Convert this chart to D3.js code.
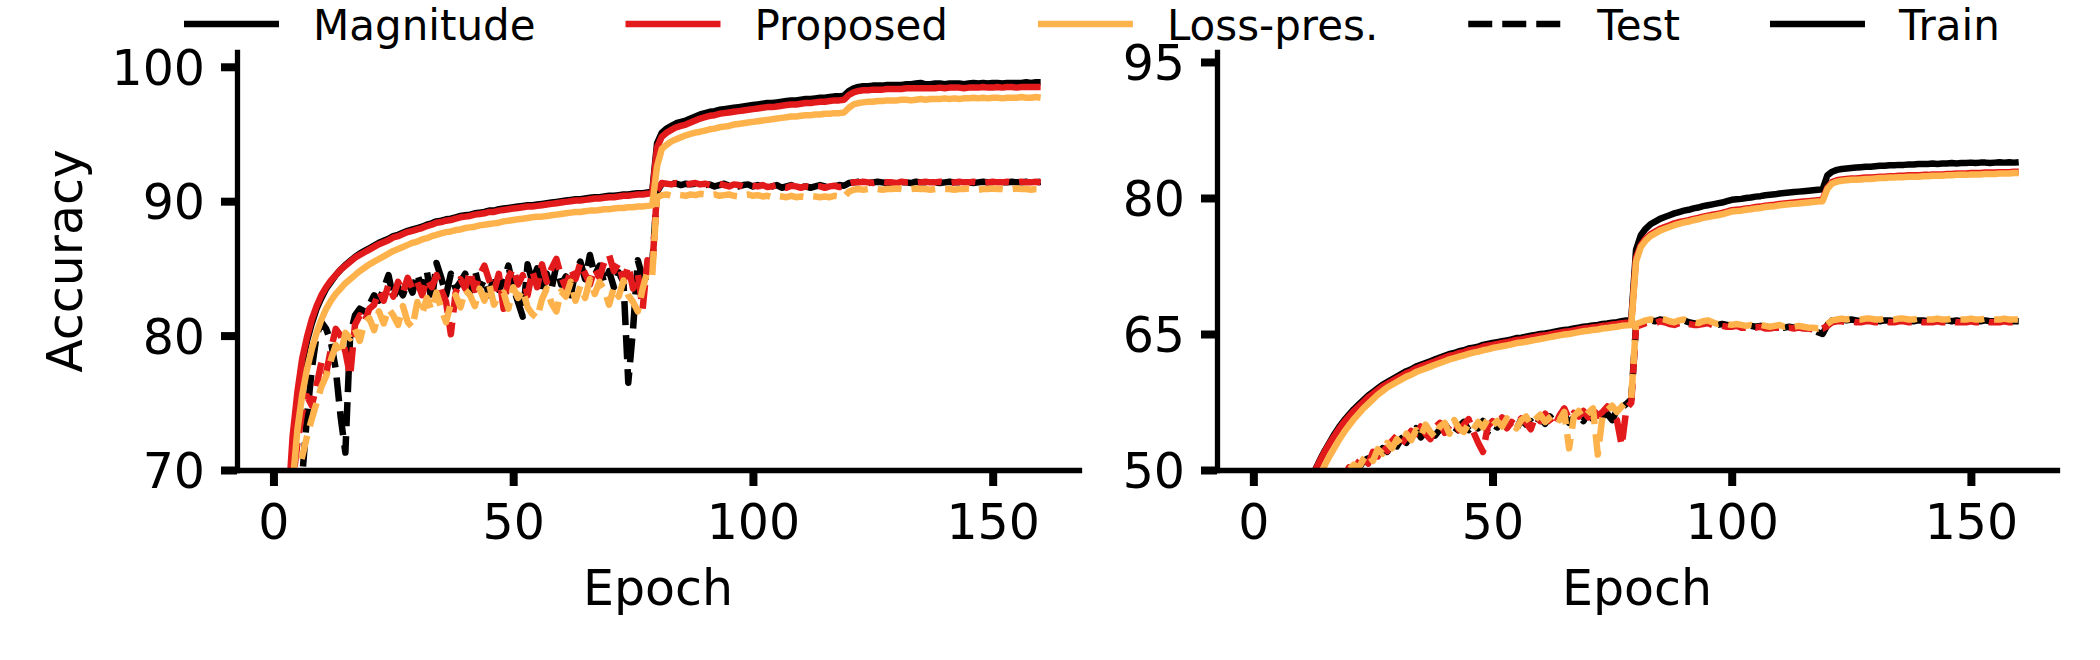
<!DOCTYPE html>
<html><head><meta charset="utf-8">
<script src="https://cdn.jsdelivr.net/npm/d3@7/dist/d3.min.js"></script>
<style>
html,body{margin:0;padding:0;background:#fff;}
svg{display:block;font-family:"DejaVu Sans",sans-serif;}
</style></head><body>
<svg id="chart" width="2100" height="660"></svg>
<script>
// ---------------- data ----------------
const epochs = d3.range(1, 161);
const xTicks = [0, 50, 100, 150];
const leftYTicks = [70, 80, 90, 100];
const rightYTicks = [50, 65, 80, 95];
const methods = ["Magnitude", "Proposed", "Loss-pres."];
const legendLabels = ["Magnitude", "Proposed", "Loss-pres.", "Test", "Train"];
const xLabel = "Epoch";
const yLabel = "Accuracy";

// Left panel
const leftTrainMagnitude = [
42.0,55.0,65.5,71.5,75.0,77.8,79.6,80.9,82.0,82.8,
83.5,84.0,84.5,84.9,85.25,85.55,85.85,86.1,86.3,86.5,
86.7,86.9,87.05,87.2,87.4,87.5,87.65,87.8,87.9,88.0,
88.1,88.25,88.35,88.5,88.55,88.65,88.7,88.8,88.9,88.95,
89.0,89.1,89.15,89.2,89.3,89.3,89.4,89.45,89.5,89.55,
89.6,89.65,89.7,89.7,89.75,89.8,89.85,89.9,89.95,90.0,
90.05,90.1,90.15,90.15,90.2,90.25,90.3,90.3,90.35,90.4,
90.4,90.45,90.5,90.5,90.55,90.6,90.6,90.65,90.7,94.3,
95.1,95.4,95.6,95.8,95.9,96.0,96.15,96.3,96.45,96.55,
96.65,96.7,96.8,96.85,96.9,96.95,97.0,97.05,97.1,97.15,
97.2,97.25,97.3,97.3,97.35,97.4,97.45,97.5,97.5,97.55,
97.6,97.6,97.65,97.7,97.7,97.75,97.8,97.8,97.85,98.2,
98.4,98.5,98.55,98.55,98.6,98.6,98.6,98.65,98.65,98.65,
98.65,98.7,98.7,98.75,98.8,98.7,98.7,98.75,98.75,98.7,
98.75,98.75,98.75,98.7,98.75,98.8,98.75,98.8,98.75,98.8,
98.8,98.75,98.8,98.8,98.8,98.8,98.85,98.8,98.85,98.85];
const leftTrainProposed = [
45.0,58.0,67.0,72.5,75.8,78.3,79.9,81.2,82.2,83.0,
83.6,84.1,84.5,84.9,85.2,85.5,85.8,86.0,86.2,86.4,
86.6,86.8,86.95,87.1,87.3,87.4,87.55,87.7,87.8,87.9,
88.0,88.15,88.25,88.4,88.45,88.55,88.6,88.7,88.8,88.85,
88.9,89.0,89.05,89.1,89.2,89.2,89.3,89.35,89.4,89.45,
89.5,89.55,89.6,89.6,89.65,89.7,89.75,89.8,89.85,89.9,
89.95,90.0,90.05,90.05,90.1,90.15,90.2,90.2,90.25,90.3,
90.3,90.35,90.4,90.4,90.45,90.5,90.5,90.55,90.6,94.0,
94.8,95.1,95.3,95.5,95.6,95.7,95.85,96.0,96.15,96.25,
96.35,96.4,96.5,96.55,96.6,96.65,96.7,96.75,96.8,96.85,
96.9,96.95,97.0,97.0,97.05,97.1,97.15,97.2,97.2,97.25,
97.3,97.3,97.35,97.4,97.4,97.45,97.5,97.5,97.55,97.9,
98.1,98.2,98.25,98.25,98.3,98.3,98.3,98.35,98.35,98.35,
98.35,98.4,98.4,98.4,98.4,98.4,98.4,98.4,98.45,98.4,
98.45,98.45,98.45,98.4,98.45,98.45,98.45,98.5,98.45,98.45,
98.5,98.45,98.5,98.5,98.45,98.5,98.5,98.5,98.5,98.5];
const leftTrainLossPres = [
40.0,54.0,63.0,69.0,73.0,75.6,77.5,79.0,80.2,81.2,
82.0,82.6,83.1,83.5,83.9,84.2,84.5,84.8,85.05,85.3,
85.5,85.7,85.9,86.1,86.3,86.45,86.6,86.75,86.9,87.0,
87.15,87.25,87.4,87.5,87.6,87.7,87.75,87.85,87.9,88.0,
88.05,88.1,88.2,88.25,88.3,88.35,88.4,88.5,88.55,88.6,
88.65,88.7,88.75,88.8,88.85,88.85,88.9,88.95,89.0,89.05,
89.1,89.15,89.2,89.2,89.25,89.3,89.3,89.35,89.4,89.4,
89.45,89.5,89.5,89.55,89.55,89.6,89.6,89.65,89.7,92.6,
93.9,94.2,94.45,94.6,94.75,94.9,95.0,95.1,95.17,95.25,
95.35,95.4,95.5,95.55,95.6,95.7,95.75,95.8,95.85,95.9,
95.95,96.0,96.05,96.1,96.15,96.2,96.25,96.3,96.3,96.35,
96.4,96.4,96.45,96.45,96.5,96.5,96.55,96.55,96.6,96.95,
97.2,97.3,97.35,97.4,97.4,97.45,97.45,97.5,97.5,97.5,
97.55,97.55,97.5,97.55,97.6,97.55,97.6,97.6,97.6,97.65,
97.6,97.65,97.6,97.65,97.65,97.7,97.65,97.7,97.65,97.7,
97.7,97.65,97.7,97.7,97.7,97.75,97.7,97.7,97.75,97.7];
const leftTestMagnitude = [
40.0,52.0,60.0,65.0,68.0,69.5,74.0,77.5,80.0,81.0,
80.5,79.5,77.5,74.0,71.3,80.0,81.5,82.0,81.8,82.3,
83.0,82.6,83.5,84.5,82.8,83.6,83.0,84.0,83.2,84.6,
83.4,84.8,82.5,85.4,84.3,83.0,84.6,83.5,84.0,84.6,
83.2,84.9,83.5,84.2,83.0,84.5,83.4,84.1,85.2,83.6,
82.5,81.4,85.3,84.0,85.0,83.2,84.6,83.5,85.2,83.8,
84.4,83.0,84.8,85.5,84.2,86.0,84.5,85.2,83.9,84.8,
83.6,84.7,84.0,76.5,80.5,85.6,84.3,84.0,85.3,90.7,
91.3,91.2,91.35,91.3,91.2,91.3,91.25,91.3,91.3,91.2,
91.25,91.1,91.2,91.3,91.15,91.2,91.1,91.2,91.25,91.1,
91.2,91.1,91.0,91.1,91.2,91.0,91.1,91.2,91.0,91.05,
91.1,91.0,91.1,91.2,91.1,91.0,91.1,91.2,91.15,91.35,
91.4,91.45,91.4,91.35,91.4,91.45,91.4,91.35,91.4,91.45,
91.4,91.4,91.35,91.45,91.4,91.4,91.45,91.4,91.35,91.4,
91.45,91.4,91.4,91.45,91.4,91.35,91.4,91.45,91.4,91.4,
91.45,91.4,91.4,91.45,91.4,91.4,91.45,91.4,91.4,91.45];
const leftTestProposed = [
45.0,57.0,64.0,69.0,72.0,74.3,75.5,74.8,76.3,78.0,
77.2,79.0,80.5,80.0,78.8,77.0,80.8,81.5,81.0,82.0,
82.3,83.3,82.6,83.8,82.9,84.0,83.2,84.3,83.5,84.0,
83.0,84.2,83.6,84.5,83.4,82.5,80.1,83.2,84.2,83.5,
84.8,83.4,84.5,85.2,84.1,83.3,84.6,82.0,84.3,85.0,
83.8,84.5,83.0,84.8,83.6,85.3,84.0,85.0,85.7,84.4,
83.5,85.0,84.2,85.4,84.6,83.8,85.0,84.3,85.5,86.0,
84.8,85.4,84.0,85.2,83.5,84.6,82.0,85.6,85.0,90.8,
91.35,91.3,91.25,91.35,91.3,91.2,91.3,91.35,91.25,91.3,
91.2,91.25,91.3,91.2,91.1,91.25,91.2,91.1,91.2,91.15,
91.1,91.2,91.05,91.1,91.2,91.05,91.0,91.15,91.1,91.0,
91.1,91.05,91.15,91.1,91.0,91.1,91.15,91.05,91.1,91.3,
91.4,91.4,91.45,91.4,91.35,91.4,91.45,91.4,91.4,91.35,
91.45,91.4,91.4,91.35,91.4,91.45,91.4,91.4,91.45,91.4,
91.35,91.4,91.45,91.4,91.4,91.45,91.4,91.35,91.4,91.45,
91.4,91.4,91.45,91.4,91.4,91.45,91.4,91.4,91.45,91.4];
const leftTestLossPres = [
38.0,50.0,59.0,65.0,69.5,71.0,72.5,73.8,75.0,76.2,
77.0,78.2,79.3,78.6,80.2,79.8,80.5,79.6,81.0,81.3,
80.4,81.8,80.9,82.0,81.5,80.8,82.2,81.0,80.6,82.5,
81.6,82.8,81.9,83.2,82.0,81.0,82.4,83.0,82.1,83.4,
83.0,82.2,83.5,82.6,83.8,82.3,83.0,83.2,82.0,83.6,
82.8,83.4,82.1,81.6,81.3,82.7,83.5,82.4,81.8,83.3,
82.9,84.0,82.6,83.7,82.8,84.2,83.1,84.0,83.4,82.3,
83.6,82.9,84.1,83.0,82.5,81.8,83.5,84.8,84.5,90.3,
90.45,90.5,90.4,90.5,90.45,90.4,90.5,90.45,90.55,90.5,
90.45,90.5,90.4,90.45,90.5,90.4,90.35,90.45,90.5,90.4,
90.45,90.35,90.4,90.3,90.4,90.35,90.3,90.4,90.3,90.35,
90.3,90.4,90.35,90.3,90.35,90.3,90.4,90.35,90.3,90.7,
90.85,90.9,90.85,90.9,90.95,90.9,90.85,90.9,90.9,90.95,
90.9,90.85,90.9,90.95,90.9,90.9,90.85,90.9,90.95,90.9,
90.9,90.85,90.9,90.9,90.95,90.9,90.85,90.9,90.9,90.95,
90.9,90.9,90.85,90.9,90.95,90.9,90.9,90.85,90.9,90.9];

// Right panel
const rightTrainMagnitude = [
20.0,25.0,29.0,32.6,35.6,38.1,40.4,42.4,44.3,46.0,
47.5,48.9,50.1,51.2,52.2,53.1,54.0,54.8,55.5,56.1,
56.7,57.2,57.7,58.2,58.6,59.0,59.4,59.7,60.0,60.3,
60.6,60.9,61.1,61.4,61.6,61.8,62.0,62.2,62.4,62.6,
62.8,62.9,63.1,63.2,63.4,63.5,63.6,63.8,63.9,64.0,
64.1,64.2,64.3,64.4,64.55,64.6,64.7,64.8,64.9,65.0,
65.05,65.15,65.25,65.35,65.45,65.5,65.6,65.7,65.8,65.85,
65.95,66.0,66.1,66.15,66.25,66.3,66.4,66.5,66.55,74.3,
75.9,76.6,77.1,77.4,77.7,77.9,78.1,78.3,78.45,78.6,
78.7,78.85,78.95,79.1,79.2,79.3,79.4,79.5,79.65,79.8,
79.85,79.9,80.0,80.05,80.15,80.2,80.3,80.35,80.4,80.5,
80.55,80.6,80.65,80.7,80.75,80.8,80.85,80.9,80.95,82.5,
82.9,83.1,83.2,83.25,83.3,83.35,83.4,83.45,83.45,83.5,
83.55,83.55,83.6,83.6,83.65,83.65,83.7,83.7,83.75,83.75,
83.75,83.8,83.75,83.8,83.8,83.85,83.8,83.85,83.85,83.9,
83.85,83.9,83.9,83.85,83.9,83.95,83.9,83.95,83.9,83.95];
const rightTrainProposed = [
20.0,25.0,29.0,32.5,35.5,38.0,40.3,42.3,44.2,45.9,
47.4,48.8,50.0,51.1,52.1,53.0,53.8,54.6,55.3,55.9,
56.5,57.0,57.5,58.0,58.4,58.8,59.2,59.5,59.8,60.1,
60.4,60.7,60.9,61.2,61.4,61.6,61.8,62.0,62.2,62.4,
62.6,62.7,62.9,63.0,63.2,63.3,63.4,63.6,63.7,63.8,
63.9,64.0,64.1,64.2,64.35,64.4,64.5,64.6,64.7,64.8,
64.85,64.95,65.05,65.15,65.25,65.3,65.4,65.5,65.6,65.65,
65.75,65.8,65.9,65.95,66.05,66.1,66.2,66.25,66.3,73.4,
74.8,75.5,76.0,76.3,76.6,76.8,77.0,77.2,77.35,77.45,
77.55,77.7,77.8,77.95,78.05,78.15,78.25,78.35,78.5,78.65,
78.7,78.75,78.85,78.9,79.0,79.05,79.15,79.2,79.25,79.35,
79.4,79.45,79.5,79.55,79.6,79.65,79.7,79.75,79.8,81.15,
81.75,81.95,82.05,82.1,82.15,82.15,82.2,82.25,82.25,82.3,
82.35,82.35,82.4,82.4,82.45,82.45,82.5,82.5,82.5,82.55,
82.55,82.6,82.6,82.6,82.65,82.65,82.7,82.7,82.7,82.75,
82.75,82.75,82.8,82.8,82.8,82.85,82.85,82.85,82.9,82.9];
const rightTrainLossPres = [
18.0,23.0,27.0,30.5,33.5,36.0,38.3,40.4,42.3,44.0,
45.6,47.0,48.3,49.5,50.6,51.6,52.5,53.4,54.2,54.9,
55.6,56.2,56.8,57.3,57.8,58.3,58.7,59.1,59.4,59.7,
60.0,60.3,60.5,60.8,61.0,61.2,61.4,61.6,61.8,62.0,
62.2,62.35,62.5,62.65,62.8,62.95,63.05,63.2,63.3,63.45,
63.55,63.65,63.75,63.85,64.0,64.05,64.15,64.25,64.35,64.45,
64.55,64.65,64.75,64.85,64.95,65.0,65.1,65.2,65.3,65.35,
65.45,65.5,65.6,65.65,65.75,65.8,65.9,65.95,66.0,73.0,
74.6,75.3,75.8,76.1,76.4,76.6,76.8,77.0,77.15,77.3,
77.4,77.55,77.65,77.8,77.9,78.0,78.1,78.2,78.35,78.5,
78.55,78.6,78.7,78.75,78.85,78.9,79.0,79.05,79.1,79.2,
79.25,79.3,79.35,79.4,79.45,79.5,79.55,79.6,79.65,81.0,
81.6,81.8,81.9,81.95,82.0,82.0,82.05,82.1,82.1,82.15,
82.2,82.2,82.25,82.25,82.3,82.3,82.35,82.35,82.35,82.4,
82.4,82.45,82.45,82.45,82.5,82.5,82.55,82.55,82.55,82.6,
82.6,82.6,82.65,82.65,82.65,82.7,82.7,82.7,82.75,82.75];
const rightTestMagnitude = [
15.0,20.0,24.0,27.0,30.0,32.5,34.5,36.5,38.3,40.0,
41.5,42.8,44.0,45.1,46.1,47.0,47.8,48.5,49.2,49.6,
50.4,50.1,51.0,51.3,50.8,51.9,52.4,52.0,53.1,52.6,
53.5,53.0,54.0,54.6,53.6,54.2,54.9,53.8,54.5,55.1,
54.3,54.0,54.8,55.3,54.4,55.0,54.6,55.4,54.2,55.0,
54.7,55.5,54.9,55.2,54.5,55.6,55.0,55.4,54.8,55.7,
55.1,55.9,55.3,55.6,56.1,55.2,55.8,56.0,55.4,56.3,
55.6,56.5,55.9,56.2,55.5,56.6,56.9,57.3,57.8,66.0,
66.2,66.4,66.5,66.4,66.6,66.5,66.3,66.2,66.4,66.5,
66.3,66.2,66.1,66.3,66.4,66.2,66.0,66.1,66.0,65.9,
66.0,65.9,65.8,65.9,65.8,65.9,65.8,65.7,65.8,65.9,
65.7,65.8,65.7,65.8,65.7,65.6,65.5,65.2,65.0,66.0,
66.5,66.6,66.6,66.5,66.6,66.5,66.4,66.5,66.6,66.5,
66.4,66.5,66.5,66.4,66.5,66.6,66.5,66.4,66.5,66.5,
66.4,66.5,66.4,66.5,66.5,66.4,66.5,66.4,66.4,66.5,
66.4,66.4,66.5,66.4,66.4,66.5,66.4,66.4,66.4,66.4];
const rightTestProposed = [
14.0,19.0,23.0,26.5,29.5,32.0,34.0,36.0,37.8,39.5,
41.0,42.3,43.5,44.6,45.6,46.6,47.5,48.3,49.2,50.3,
49.8,50.9,51.4,50.7,52.0,51.5,52.6,52.1,53.2,53.8,
52.9,53.6,54.3,53.5,54.8,54.0,53.4,54.7,55.2,54.1,
54.9,55.3,54.4,55.0,55.6,54.2,53.0,52.0,54.8,55.4,
55.0,55.8,54.6,55.3,54.9,55.7,55.2,54.5,56.0,55.4,
56.2,55.5,54.8,56.0,56.8,55.6,56.3,55.9,56.5,55.8,
56.7,56.0,56.4,57.0,56.2,55.5,52.7,56.8,57.4,65.8,
66.0,66.2,66.3,66.2,66.4,66.3,66.1,66.0,66.2,66.3,
66.1,66.0,66.0,66.1,66.2,66.0,65.9,65.9,65.8,65.8,
65.9,65.7,65.7,65.8,65.7,65.8,65.6,65.6,65.7,65.7,
65.6,65.7,65.6,65.7,65.6,65.6,65.5,65.5,65.6,65.9,
66.3,66.4,66.4,66.3,66.4,66.3,66.3,66.4,66.4,66.3,
66.3,66.4,66.3,66.3,66.4,66.4,66.3,66.3,66.4,66.3,
66.3,66.3,66.4,66.3,66.3,66.4,66.3,66.3,66.3,66.4,
66.3,66.3,66.4,66.3,66.3,66.3,66.4,66.3,66.3,66.3];
const rightTestLossPres = [
14.5,19.5,23.5,27.0,30.0,32.3,34.5,36.3,38.0,39.8,
41.2,42.5,43.8,44.9,45.9,46.8,47.7,48.5,49.3,50.0,
50.6,50.2,51.2,51.8,51.0,52.3,51.8,53.0,52.4,53.4,
52.8,54.0,53.3,54.4,53.7,55.0,54.2,53.6,54.8,55.2,
54.0,55.5,54.6,54.2,55.1,54.5,55.3,54.7,55.6,54.9,
55.4,54.8,55.7,55.1,54.6,55.5,55.9,55.0,55.6,56.1,
55.3,55.8,56.2,55.5,56.4,52.4,55.9,56.5,55.7,56.3,
56.8,51.7,56.0,56.6,57.1,56.4,57.0,57.5,57.9,66.1,
66.3,66.5,66.6,66.5,66.7,66.6,66.4,66.3,66.5,66.6,
66.4,66.3,66.2,66.4,66.5,66.3,66.1,66.2,66.1,66.0,
66.1,66.0,65.9,66.0,65.9,66.0,65.9,65.8,65.9,66.0,
65.8,65.9,65.8,65.9,65.8,65.7,65.7,65.6,65.7,66.1,
66.5,66.6,66.7,66.6,66.7,66.6,66.6,66.7,66.7,66.6,
66.6,66.7,66.6,66.6,66.7,66.7,66.6,66.6,66.7,66.6,
66.6,66.6,66.7,66.6,66.6,66.7,66.6,66.6,66.6,66.7,
66.6,66.6,66.7,66.6,66.6,66.6,66.7,66.6,66.6,66.6];

// ---------------- drawing ----------------
const colors = {"Magnitude": "#000000", "Proposed": "#e31a1c", "Loss-pres.": "#feb24c"};
const LW = 6.5, DASH = "24,10";
const FONT_TICK = 49, FONT_LABEL = 49, FONT_LEGEND = 42;

const panels = [
  {id: "L", x0: 237, x1: 1079, y0: 52, y1: 470, xDomain: [-7.6, 168], yDomain: [70, 101.1],
   yTicks: leftYTicks, showYLabel: true,
   train: {"Magnitude": leftTrainMagnitude, "Proposed": leftTrainProposed, "Loss-pres.": leftTrainLossPres},
   test: {"Magnitude": leftTestMagnitude, "Proposed": leftTestProposed, "Loss-pres.": leftTestLossPres}},
  {id: "R", x0: 1217, x1: 2057, y0: 52, y1: 470, xDomain: [-7.6, 168], yDomain: [50, 96.1],
   yTicks: rightYTicks, showYLabel: false,
   train: {"Magnitude": rightTrainMagnitude, "Proposed": rightTrainProposed, "Loss-pres.": rightTrainLossPres},
   test: {"Magnitude": rightTestMagnitude, "Proposed": rightTestProposed, "Loss-pres.": rightTestLossPres}}
];

const svg = d3.select("#chart");
svg.append("rect").attr("width", 2100).attr("height", 660).attr("fill", "#fff");
const defs = svg.append("defs");

panels.forEach(p => {
  const x = d3.scaleLinear().domain(p.xDomain).range([p.x0, p.x1]);
  const y = d3.scaleLinear().domain(p.yDomain).range([p.y1, p.y0]);
  const clipId = "clip" + p.id;
  defs.append("clipPath").attr("id", clipId).append("rect")
    .attr("x", p.x0).attr("y", p.y0).attr("width", p.x1 - p.x0).attr("height", p.y1 - p.y0);

  const line = d3.line().x((d, i) => x(epochs[i])).y(d => y(d));
  const g = svg.append("g").attr("clip-path", `url(#${clipId})`);
  methods.forEach(m => {
    g.append("path").datum(p.train[m]).attr("d", line)
      .attr("fill", "none").attr("stroke", colors[m]).attr("stroke-width", LW)
      .attr("stroke-linejoin", "round").attr("stroke-linecap", "butt");
    g.append("path").datum(p.test[m]).attr("d", line)
      .attr("fill", "none").attr("stroke", colors[m]).attr("stroke-width", LW)
      .attr("stroke-dasharray", DASH)
      .attr("stroke-linejoin", "round").attr("stroke-linecap", "butt");
  });

  const xa = svg.append("g").attr("transform", `translate(0,${p.y1})`)
    .call(d3.axisBottom(x).tickValues(xTicks).tickFormat(d3.format("d")).tickSize(16).tickSizeOuter(0));
  const ya = svg.append("g").attr("transform", `translate(${p.x0},0)`)
    .call(d3.axisLeft(y).tickValues(p.yTicks).tickFormat(d3.format("d")).tickSize(16).tickSizeOuter(0));
  [xa, ya].forEach(a => {
    a.select(".domain").attr("stroke", "#000").attr("stroke-width", 5.3).attr("stroke-linecap", "square");
    a.selectAll(".tick line").attr("stroke", "#000").attr("stroke-width", 8);
    a.selectAll(".tick text").attr("fill", "#000")
      .style("font-family", "'DejaVu Sans', sans-serif").style("font-size", FONT_TICK + "px");
    a.attr("font-family", null).attr("font-size", null);
  });
  xa.selectAll(".tick text").attr("y", 69).attr("dy", 0);
  ya.selectAll(".tick text").attr("x", -32).attr("dy", "0.36em");

  svg.append("text").attr("x", (p.x0 + p.x1) / 2).attr("y", 605)
    .attr("text-anchor", "middle").style("font-size", FONT_LABEL + "px").text(xLabel);
  if (p.showYLabel) {
    svg.append("text").attr("transform", `translate(82,${(p.y0 + p.y1) / 2}) rotate(-90)`)
      .attr("text-anchor", "middle").style("font-size", FONT_LABEL + "px").text(yLabel);
  }
});

// legend
const legendItems = [
  {label: legendLabels[0], color: colors["Magnitude"], dash: null},
  {label: legendLabels[1], color: colors["Proposed"], dash: null},
  {label: legendLabels[2], color: colors["Loss-pres."], dash: null},
  {label: legendLabels[3], color: "#000000", dash: DASH},
  {label: legendLabels[4], color: "#000000", dash: null}
];
const HANDLE = 95, PAD = 34, COLSP = 90, LY = 24, TY = 40;
let lx = 184;
const lg = svg.append("g");
legendItems.forEach(it => {
  const ln = lg.append("line").attr("x1", lx).attr("x2", lx + HANDLE).attr("y1", LY).attr("y2", LY)
    .attr("stroke", it.color).attr("stroke-width", LW);
  if (it.dash) ln.attr("stroke-dasharray", it.dash);
  const t = lg.append("text").attr("x", lx + HANDLE + PAD).attr("y", TY)
    .style("font-size", FONT_LEGEND + "px").text(it.label);
  lx = lx + HANDLE + PAD + t.node().getComputedTextLength() + COLSP;
});
</script>
</body></html>
